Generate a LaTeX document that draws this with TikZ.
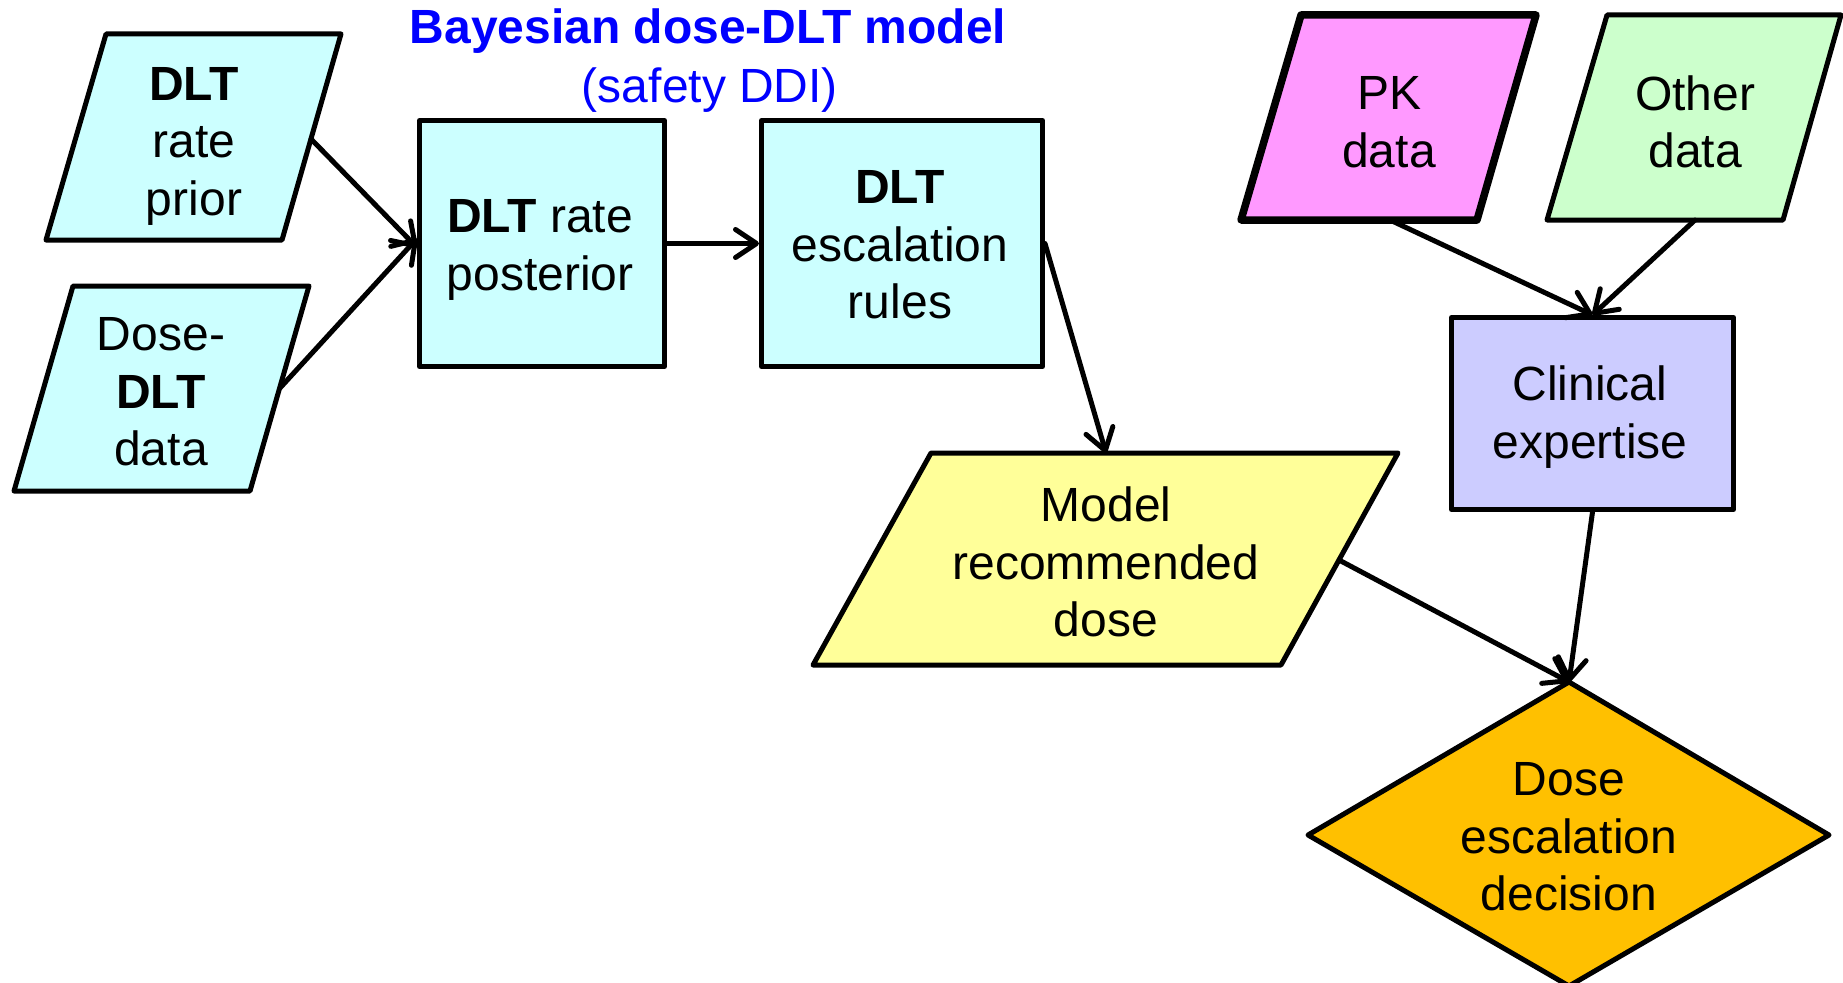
\documentclass[tikz,border=0pt]{standalone}
\usepackage{fontspec}
\setmainfont{Liberation Sans}
\usetikzlibrary{arrows.meta}
\definecolor{cyanfill}{HTML}{CCFFFF}
\definecolor{yellowfill}{HTML}{FFFF99}
\definecolor{pkfill}{HTML}{FF99FF}
\definecolor{otherfill}{HTML}{CCFFCC}
\definecolor{clinfill}{HTML}{CCCCFF}
\definecolor{decfill}{HTML}{FFC000}
\definecolor{titleblue}{HTML}{0000FF}
\begin{document}
\begin{tikzpicture}[x=1pt,y=-1pt,
  shapeline/.style={draw=black, line width=5pt, line join=round},
  txt/.style={font=\fontsize{48}{57.5}\selectfont, align=center, inner sep=0pt},
  box/.style={shapeline, rectangle, inner sep=0pt, anchor=north west},
  conn/.style={line width=5pt, line cap=round, -{Straight Barb[round,length=21pt,width=28pt,line width=5pt]}}
]
\useasboundingbox (0,0) rectangle (1843,982);

% title
\node[txt, text=titleblue, font=\fontsize{48}{57.5}\selectfont\bfseries] (title) at (708,31) {Bayesian dose-DLT model};
\node[txt, text=titleblue] (sub) at (710,90) {(safety DDI)};

% parallelograms (inputs)
\draw[shapeline, fill=cyanfill] (106,34) -- (341,34) -- (282,240) -- (46,240) -- cycle;
\node[txt] (prior) at (194,146) {\textbf{DLT}\\rate\\prior};
\coordinate (priorout) at (311,139);

\draw[shapeline, fill=cyanfill] (73,286) -- (309,286) -- (250,491) -- (14,491) -- cycle;
\node[txt] (data) at (161,392) {Dose-\\\textbf{DLT}\\data};
\coordinate (dataout) at (280,388);

% boxes
\node[box, fill=cyanfill, minimum width=245pt, minimum height=246pt] (post) at (417,118) {};
\node[txt] (posttxt) at (540,250) {\textbf{DLT} rate\\posterior};
\node[box, fill=cyanfill, minimum width=281pt, minimum height=246pt] (esc) at (759,118) {};
\node[txt] (esctxt) at (900,245) {\textbf{DLT}\\escalation\\rules};

% model recommended dose
\draw[shapeline, fill=yellowfill] (931,453) -- (1398,453) -- (1281,665) -- (813,665) -- cycle;
\node[txt] (model) at (1106,562) {Model\\recommended\\dose};
\coordinate (modelin) at (1106,453);
\coordinate (modelout) at (1339,560);

% PK and other data
\draw[shapeline, line width=7.5pt, fill=pkfill] (1301,15) -- (1536,15) -- (1477,220) -- (1241,220) -- cycle;
\node[txt] (pk) at (1389,122) {PK\\data};
\coordinate (pkout) at (1390,220);

\draw[shapeline, fill=otherfill] (1607,15) -- (1841,15) -- (1783,220) -- (1547,220) -- cycle;
\node[txt] (other) at (1695,122) {Other\\data};
\coordinate (otherout) at (1695,220);

% clinical expertise
\node[box, fill=clinfill, minimum width=282pt, minimum height=192pt] (clin) at (1449,315) {};
\node[txt] (clintxt) at (1590,417) {Clinical\\expertise};

% decision diamond
\draw[shapeline, fill=decfill] (1569,682) -- (1829,835) -- (1569,986) -- (1308,835) -- cycle;
\node[txt] (dec) at (1569,837) {Dose\\escalation\\decision};
\coordinate (decin) at (1569,682);

% connectors
\coordinate (postin1) at ([yshift=-4pt]post.west);
\coordinate (postin2) at ([yshift=5pt]post.west);
\draw[conn] (priorout) -- (postin1);
\draw[conn] (dataout) -- (postin2);
\draw[conn] (post.east) -- (esc.west);
\draw[conn] (esc.east) -- (modelin);
\draw[conn] (pkout) -- (clin.north);
\draw[conn] (otherout) -- (clin.north);
\draw[conn] (clin.south) -- (decin);
\draw[conn] (modelout) -- (decin);
\end{tikzpicture}
\end{document}
